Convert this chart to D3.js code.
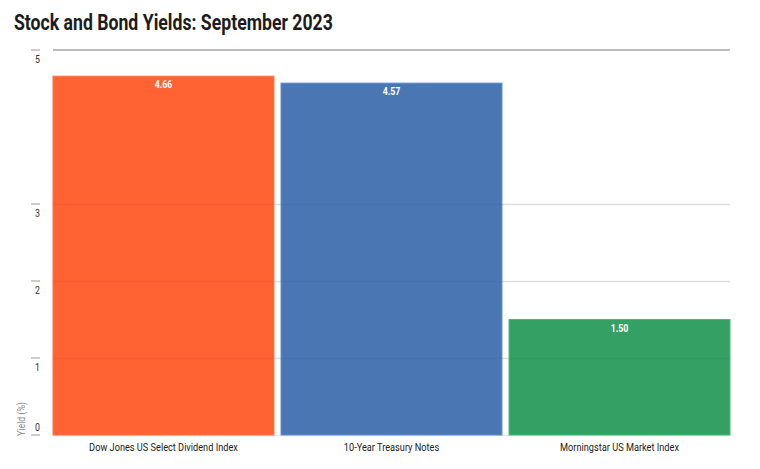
<!DOCTYPE html>
<html>
<head>
<meta charset="utf-8">
<script src="https://cdn.jsdelivr.net/npm/d3@7"></script>
<style>
  body { margin: 0; background: #fff; }
  svg { display: block; }
</style>
</head>
<body>
<svg id="chart" width="760" height="469"></svg>
<script>
const categories = ["Dow Jones US Select Dividend Index", "10-Year Treasury Notes", "Morningstar US Market Index"];
const yields = [4.66, 4.57, 1.50];
const labels = ["4.66", "4.57", "1.50"];
const colors = ["#FF6233", "#4A77B4", "#34A063"];
const yTicks = [0, 1, 2, 3, 5];
const title = "Stock and Bond Yields: September 2023";
const yTitle = "Yield (%)";

const font = "Roboto, 'DejaVu Sans', sans-serif";
const squeeze = 0.8; // horizontal condensation to mimic a condensed face
const svg = d3.select("#chart");
const plotLeft = 53, plotRight = 730, plotTop = 50, plotBottom = 435;

const x = d3.scaleBand().domain(categories).range([plotLeft, plotRight]).paddingInner(0.031).paddingOuter(0);
const y = d3.scaleLinear().domain([0, 5]).range([plotBottom, plotTop]);

// title, condensed to the reference width
const t = svg.append("text").attr("x", 0).attr("y", 0)
  .attr("font-family", font).attr("font-weight", "bold").attr("font-size", 22)
  .attr("fill", "#1c1c1c").text(title);
const tw = t.node().getComputedTextLength();
t.attr("transform", `translate(14,30) scale(${319 / tw},1)`);

// light gridlines under bars
const grid = svg.append("g");
grid.selectAll("line").data(yTicks.filter(v => v !== 5)).join("line")
  .attr("x1", plotLeft).attr("x2", plotRight)
  .attr("y1", d => Math.round(y(d)) + 0.5).attr("y2", d => Math.round(y(d)) + 0.5)
  .attr("stroke", "#e6e6e6").attr("stroke-width", 1.5);

// bars
svg.append("g").selectAll("rect").data(categories).join("rect")
  .attr("x", d => x(d)).attr("width", x.bandwidth())
  .attr("y", (d, i) => y(yields[i])).attr("height", (d, i) => y(0) - y(yields[i]))
  .attr("fill", (d, i) => colors[i])
  .attr("stroke", (d, i) => d3.color(colors[i]).brighter(0.5))
  .attr("stroke-width", 1);

// faint gridlines visible through bars
svg.append("g").selectAll("line").data(yTicks.filter(v => v !== 5 && v !== 0)).join("line")
  .attr("x1", plotLeft).attr("x2", plotRight)
  .attr("y1", d => Math.round(y(d)) + 0.5).attr("y2", d => Math.round(y(d)) + 0.5)
  .attr("stroke", "#000").attr("stroke-opacity", 0.035).attr("stroke-width", 1.5);

svg.append("line").attr("x1", plotLeft).attr("x2", plotRight)
  .attr("y1", y(5)).attr("y2", y(5))
  .attr("stroke", "#bdbdbd").attr("stroke-width", 2);

// y axis ticks
const yAxis = svg.append("g");
yAxis.selectAll("line").data(yTicks).join("line")
  .attr("x1", 31).attr("x2", 40)
  .attr("y1", d => y(d)).attr("y2", d => y(d))
  .attr("stroke", "#bbb").attr("stroke-width", 1.5);
yAxis.selectAll("text").data(yTicks).join("text")
  .attr("text-anchor", "end")
  .attr("transform", d => `translate(40,${d === 0 ? y(d) - 4 : y(d) + 13}) scale(${squeeze},1)`)
  .attr("font-family", font).attr("font-size", 11).attr("fill", "#333")
  .text(d => d);

svg.append("text")
  .attr("transform", `translate(25,419) rotate(-90) scale(${squeeze},1)`)
  .attr("text-anchor", "middle")
  .attr("font-family", font).attr("font-size", 11).attr("fill", "#8a8a8a")
  .text(yTitle);

// value labels
svg.append("g").selectAll("text").data(categories).join("text")
  .attr("text-anchor", "middle")
  .attr("transform", (d, i) => `translate(${x(d) + x.bandwidth() / 2},${y(yields[i]) + 12}) scale(${squeeze},1)`)
  .attr("font-family", font).attr("font-weight", "bold").attr("font-size", 11)
  .attr("fill", "#fff").text((d, i) => labels[i]);

// category labels
const xAxis = d3.axisBottom(x).tickSize(0).tickPadding(0);
const gx = svg.append("g").attr("transform", `translate(0,${plotBottom})`).call(xAxis);
gx.select(".domain").remove();
gx.selectAll("text")
  .attr("y", 0).attr("dy", 0)
  .attr("transform", `translate(0,16) scale(${squeeze},1)`)
  .attr("font-family", font).attr("font-size", 11.5).attr("fill", "#222");
</script>
</body>
</html>
